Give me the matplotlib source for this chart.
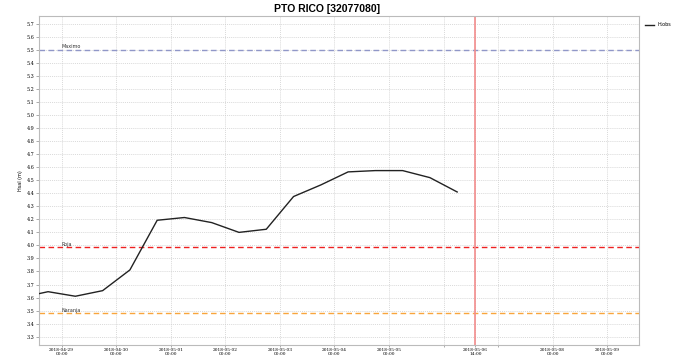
import matplotlib
matplotlib.use("Agg")
import matplotlib.pyplot as plt
import matplotlib.dates as mdates
import pandas as pd
import numpy as np

title = "PTO RICO [32077080]"
ylabel = "Hsal (m)"
series_label = "H.obs"

times = pd.to_datetime([
    "2018-04-28 06:00", "2018-04-28 18:00", "2018-04-29 06:00", "2018-04-29 18:00",
    "2018-04-30 06:00", "2018-04-30 18:00", "2018-05-01 06:00", "2018-05-01 18:00",
    "2018-05-02 06:00", "2018-05-02 18:00", "2018-05-03 06:00", "2018-05-03 18:00",
    "2018-05-04 06:00", "2018-05-04 18:00", "2018-05-05 06:00", "2018-05-05 18:00",
    "2018-05-06 06:00",
])
h_obs = [3.60, 3.645, 3.61, 3.653, 3.812, 4.193, 4.214, 4.175, 4.10, 4.124,
         4.375, 4.464, 4.564, 4.574, 4.574, 4.52, 4.41]

thresholds = {"Maximo": 5.50, "Roja": 3.985, "Naranja": 3.48}
threshold_colors = {"Maximo": "#9097c8", "Roja": "#ee2020", "Naranja": "#f9a53c"}

now = pd.Timestamp("2018-05-06 14:00")
xmin = pd.Timestamp("2018-04-28 14:00")
xmax = pd.Timestamp("2018-05-09 14:00")
ymin, ymax = 3.236, 5.76

fig = plt.figure(figsize=(6.81, 3.58), dpi=100)
ax = fig.add_axes([39/681, 1-345/358, 600/681, 329/358])

ax.plot(times, h_obs, color="#222222", lw=1.0, label=series_label, zorder=3)

label_x = pd.Timestamp("2018-04-29 00:00")
for name, val in thresholds.items():
    ax.axhline(val, color=threshold_colors[name], ls=(0, (4, 2.5)), lw=1.0, zorder=2)
    ax.text(label_x, val + 0.005, name, fontsize=3.5, ha="left", va="bottom",
            color="#333333")

ax.axvline(now, color="#f28c8c", lw=1.2, zorder=2)

ax.set_xlim(xmin, xmax)
ax.set_ylim(ymin, ymax)

yt = np.round(np.arange(3.3, 5.71, 0.1), 1)
ax.set_yticks(yt)
ax.set_yticklabels([f"{v:.1f}" for v in yt], fontsize=3.5, family="DejaVu Serif")

days = pd.date_range("2018-04-29", "2018-05-09", freq="D")
ticks = list(days) + [now]
labels = []
for d in days:
    if d in (pd.Timestamp("2018-05-06"), pd.Timestamp("2018-05-07")):
        labels.append("")
    else:
        labels.append(d.strftime("%Y-%m-%d\n%H:%M"))
labels.append(now.strftime("%Y-%m-%d\n%H:%M"))
ax.set_xticks([mdates.date2num(t) for t in ticks])
ax.set_xticklabels(labels, fontsize=3.2, family="DejaVu Serif", linespacing=1.0)
ax.tick_params(axis="both", length=2, width=0.5, pad=1.2, color="#888888")
ax.tick_params(axis="x", length=1.5, pad=0.8)

ax.grid(True, color="#cccccc", ls=(0, (1.5, 1.5)), lw=0.5)
for s in ax.spines.values():
    s.set_color("#bbbbbb")
    s.set_linewidth(0.8)

ax.set_ylabel(ylabel, fontsize=3.5, labelpad=3)
fig.text(327/681, 1-9/358, title, fontsize=7.5, fontweight="bold",
         family="Liberation Sans", ha="center", va="center")

ax.legend(loc="upper left", bbox_to_anchor=(1.005, 0.99), fontsize=3.5, frameon=False,
          handlelength=1.8, borderaxespad=0.2)

fig.savefig("out.png", dpi=100)
